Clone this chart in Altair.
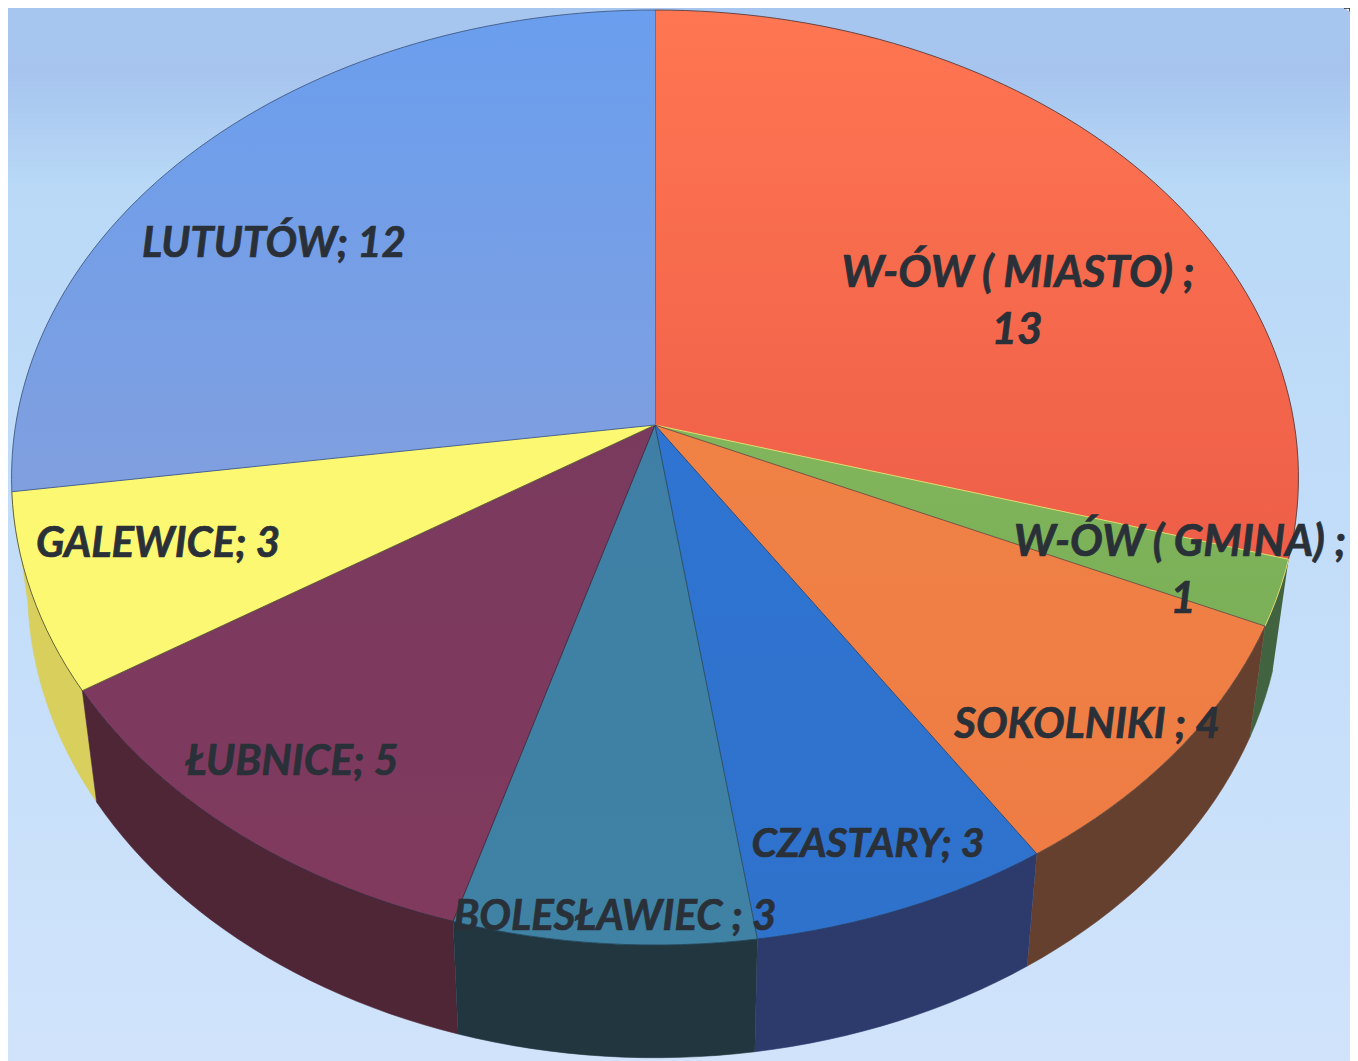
import math
import altair as alt
import pandas as pd

# --- chart values ---
names = ["W-ÓW ( MIASTO)", "W-ÓW ( GMINA)", "SOKOLNIKI", "CZASTARY",
         "BOLESŁAWIEC", "ŁUBNICE", "GALEWICE", "LUTUTÓW"]
values = [13, 1, 4, 3, 3, 5, 3, 12]

# --- styles ---
top_light = ["#ff7652", "#82b55c", "#f08246", "#2f74d2", "#3f7fa6", "#7a3a5e", "#fdf871", "#6a9eee"]
top_dark = ["#ee5e48", "#7bb058", "#ee7c44", "#2f72cc", "#3f82a4", "#803a5e", "#fdf873", "#809fdf"]
wall_cols = ["#8c3b2c", "#41633f", "#66402e", "#2c3a6c", "#21363f", "#4f2636", "#d8cf5c", "#5a78a8"]
edge_cols = ["#5b3a3a", "#e9df6a", "#6b4a3a", "#27406a", "#23465a", "#33283a", "#55552c", "#3f5a86"]

# --- layout of the tilted pie (perspective projection of the circle) ---
CX, CY = 655.0, 425.0
RX, RY, PERSP = 639.4, 461.6, 0.1123
WALL_X, WALL_DEPTH = 0.975, 112.0
X_END, Y_END = 1350, 1061


def rim(frac):
    a = 2 * math.pi * frac
    sx, cy = math.sin(a), math.cos(a)
    d = 1 + PERSP * cy
    return CX + RX * sx / d, CY - RY * cy / d


def lower(x, y):
    return CX + WALL_X * (x - CX), y + WALL_DEPTH + 0.005 * (y - 800)


total = sum(values)
xs = alt.X("x:Q", scale=alt.Scale(domain=[8, X_END]), axis=None)
ys = alt.Y("y:Q", scale=alt.Scale(domain=[Y_END, 8]), axis=None)
enc = dict(x=xs, y=ys, order=alt.Order("i:Q"))


def polygon(points, fill, stroke, sw=0.8):
    df = pd.DataFrame([{"i": k, "x": p[0], "y": p[1]} for k, p in enumerate(points)])
    return alt.Chart(df).mark_line(fill=fill, stroke=stroke, strokeWidth=sw,
                                   clip=True).encode(**enc)


def vgrad(stops):
    return alt.LinearGradient(
        gradient="linear", x1=0, y1=0, x2=0, y2=1,
        stops=[alt.GradientStop(offset=o, color=c) for o, c in stops])


layers = []

# background
bg = pd.DataFrame({"x": [8], "x2": [X_END], "y": [8], "y2": [Y_END]})
layers.append(alt.Chart(bg).mark_rect(
    color=vgrad([(0, "#a6c6f0"), (0.06, "#a6c4ee"), (0.17, "#b9d9f7"), (1, "#d0e3fb")])
).encode(x=xs, x2="x2:Q", y=ys, y2="y2:Q"))

# corner of the sheet
layers.append(polygon([(1344, 8), (1350, 8), (1350, 11.5)], "#ffffff", "#222222", 1.5))

# walls (front slices only), then top faces
slices = []
start = 0
for v in values:
    slices.append((start / total, (start + v) / total))
    start += v

for idx in [1, 6, 2, 5, 3, 4]:
    f0, f1 = slices[idx]
    n = max(4, int((f1 - f0) * 240))
    up = [rim(f0 + (f1 - f0) * k / n) for k in range(n + 1)]
    low = [lower(*p) for p in up]
    layers.append(polygon(up + low[::-1], wall_cols[idx], wall_cols[idx], 0.6))

for idx in range(len(values)):
    f0, f1 = slices[idx]
    n = max(4, int((f1 - f0) * 240))
    up = [rim(f0 + (f1 - f0) * k / n) for k in range(n + 1)]
    layers.append(polygon([(CX, CY)] + up, vgrad([(0, top_light[idx]), (1, top_dark[idx])]),
                          edge_cols[idx], 0.9))

# labels
label_lines = ["LUTUTÓW; 12", "W-ÓW ( MIASTO) ;", "13", "W-ÓW ( GMINA) ;", "1",
               "SOKOLNIKI ; 4", "CZASTARY; 3", "BOLESŁAWIEC ; 3", "ŁUBNICE; 5", "GALEWICE; 3"]
label_x = [274, 1018, 1017, 1180, 1183, 1087, 868, 615, 292, 158]
label_y = [257, 287, 344, 556, 613, 738, 857, 930, 775, 557]
label_size = [42, 44, 44, 43.5, 44, 42, 41, 42, 42.5, 42]
labels = pd.DataFrame({"t": label_lines, "x": label_x, "y": label_y, "s": label_size})
layers.append(alt.Chart(labels).mark_text(
    font="Lato", fontWeight="bold", fontStyle="italic",
    color="#2a3038", stroke="#2a3038", strokeWidth=0.7,
    align="center", baseline="alphabetic"
).encode(x=xs, y=ys, text="t:N",
         size=alt.Size("s:Q", scale=None, legend=None)))

chart = alt.layer(*layers).properties(
    width=X_END - 8, height=Y_END - 8, padding=0,
    autosize=alt.AutoSizeParams(type="none"),
).configure_view(stroke=None)

chart.save("out.html", embed_options={"renderer": "svg", "actions": False})
